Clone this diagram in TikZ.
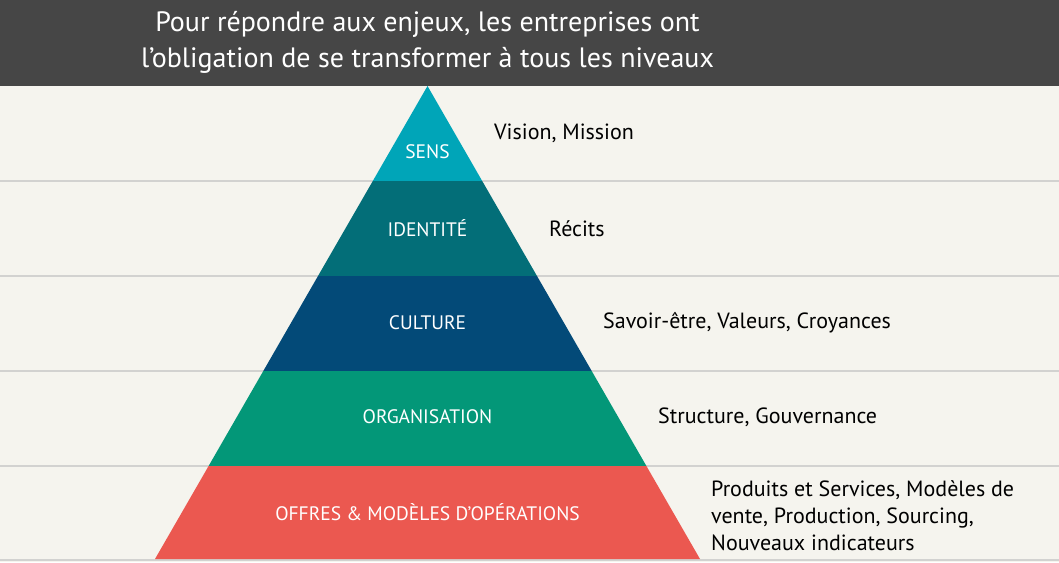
\documentclass[tikz,border=0pt]{standalone}
\usepackage{fontspec}
\setmainfont{PT Sans}
\usetikzlibrary{positioning}

\definecolor{headgray}{HTML}{464646}
\definecolor{paper}{HTML}{F5F4EE}
\definecolor{rule}{HTML}{D2D2D0}
\definecolor{sens}{HTML}{00A5B8}
\definecolor{ident}{HTML}{036E78}
\definecolor{cult}{HTML}{034A78}
\definecolor{orga}{HTML}{039778}
\definecolor{offre}{HTML}{EB5850}

\begin{document}
\begin{tikzpicture}[x=1pt, y=-1pt,
    band/.style={font=\fontsize{19.5}{22}\selectfont, text=white, inner sep=0pt},
    note/.style={font=\fontsize{22}{27}\selectfont, anchor=west, align=left, inner sep=0pt},
    sep/.style={draw=rule, line width=1.2pt}]
    \useasboundingbox (0,0) rectangle (1059,562);
    \fill[paper] (0,0) rectangle (1059,562);
    \fill[headgray] (0,0) rectangle (1059,86);
    \node (title) [font=\fontsize{28}{36}\selectfont, text=white, align=center] at (427.5,42) {Pour répondre aux enjeux, les entreprises ont\\l’obligation de se transformer à tous les niveaux};
    % horizontal rules
    \draw[sep] (0,181) -- (1059,181);
    \draw[sep] (0,276) -- (1059,276);
    \draw[sep] (0,371) -- (1059,371);
    \draw[sep] (0,466) -- (1059,466);
    \draw[sep] (0,560) -- (1059,560);
    % pyramid
    \fill[sens] (427.5,86) -- (482.2,181) -- (372.8,181) -- cycle;
    \fill[ident] (372.8,181) -- (482.2,181) -- (537,276) -- (318,276) -- cycle;
    \fill[cult] (318,276) -- (537,276) -- (591.7,371) -- (263.3,371) -- cycle;
    \fill[orga] (263.3,371) -- (591.7,371) -- (646.4,466) -- (208.6,466) -- cycle;
    \fill[offre] (208.6,466) -- (646.4,466) -- (700,559) -- (155,559) -- cycle;
    \node (sensl) [band] at (427.5,152) {SENS};
    \node (identl) [band] at (427.5,228) {IDENTITÉ};
    \node (cultl) [band] at (427.5,323) {CULTURE};
    \node (orgal) [band] at (427.5,417) {ORGANISATION};
    \node (offrel) [band] at (427.5,512) {OFFRES \& MODÈLES D’OPÉRATIONS};
    \node (vision) [note] at (494,133) {Vision, Mission};
    \node (recits) [note] at (549,229) {Récits};
    \node (savoir) [note] at (603,323) {Savoir-être, Valeurs, Croyances};
    \node (struct) [note] at (658,417) {Structure, Gouvernance};
    \node (produits) [note] at (711,516) {Produits et Services, Modèles de\\vente, Production, Sourcing,\\Nouveaux indicateurs};
  \end{tikzpicture}
\end{document}
